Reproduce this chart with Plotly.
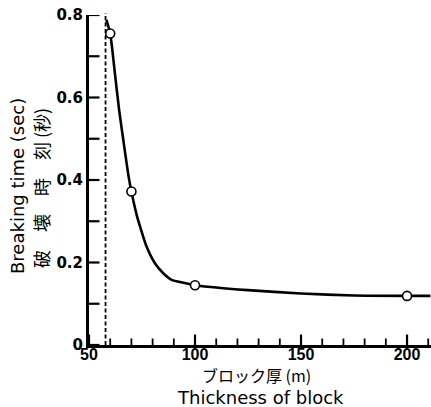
import plotly.graph_objects as go

# Measured points: block thickness (m) vs breaking time (sec)
thickness = [60, 70, 100, 200]
breaking_time = [0.755, 0.372, 0.145, 0.119]

# Fitted curve drawn through the measurements
curve_thickness = [58.2, 60, 62.4, 64.2, 66.4, 68.7, 70, 72.5, 74.1, 77.2, 81.1,
                   85, 89, 94.5, 100, 125, 150, 175, 200, 211]
curve_time = [0.788, 0.755, 0.650, 0.570, 0.489, 0.408, 0.372, 0.315, 0.287,
              0.238, 0.198, 0.174, 0.158, 0.151, 0.145, 0.133, 0.125, 0.120,
              0.119, 0.119]

# Limiting thickness (dashed asymptote)
limit_thickness = 57.8

# Axis ticks
x_ticks = list(range(50, 211, 10))
x_major = [50, 100, 150, 200]
y_ticks = [0, 0.1, 0.2, 0.3, 0.4, 0.5, 0.6, 0.7, 0.8]
y_labels = ["0", "", "0.2", "", "0.4", "", "0.6", "", "0.8"]

x_range = [50, 211.3]
y_range = [0, 0.8]

plot_w, plot_h = 342, 330
left, bottom = 89, 62

fig = go.Figure()

fig.add_trace(go.Scatter(
    x=curve_thickness, y=curve_time, mode="lines",
    line=dict(color="black", width=2.6, shape="spline", smoothing=0.6),
    hoverinfo="skip", showlegend=False,
))

fig.add_trace(go.Scatter(
    x=thickness, y=breaking_time, mode="markers",
    marker=dict(symbol="circle", size=9, color="white",
                line=dict(color="black", width=1.6)),
    showlegend=False,
))

fig.add_shape(type="line", xref="x", yref="paper",
              x0=limit_thickness, x1=limit_thickness, y0=0, y1=1.006,
              line=dict(color="black", width=1.8, dash="4px,2.5px"))

# Inward tick marks: every 10 m along x (longer at 50 m), every 0.1 s along y
for v in x_ticks:
    length = 10.5 if v in x_major else 6.5
    fig.add_shape(type="line", xref="x", yref="paper", layer="above",
                  x0=v, x1=v, y0=0, y1=length / plot_h,
                  line=dict(color="black", width=2.2 if v in x_major else 1.8))
for v in y_ticks:
    fig.add_shape(type="line", xref="paper", yref="y", layer="above",
                  x0=0, x1=10.5 / plot_w, y0=v, y1=v,
                  line=dict(color="black", width=2.2))

fig.update_xaxes(
    range=x_range, showline=True, linecolor="black", linewidth=3,
    ticks="", tickmode="array", tickvals=x_major,
    ticktext=[str(v) for v in x_major],
    tickfont=dict(family="Liberation Sans", size=16, color="black", weight="bold"),
    ticklabelstandoff=-7,
    showgrid=False, zeroline=False,
)
fig.update_yaxes(
    range=y_range, showline=True, linecolor="black", linewidth=3,
    ticks="", tickmode="array", tickvals=y_ticks, ticktext=y_labels,
    tickfont=dict(family="DejaVu Sans", size=15, color="black", weight="bold"),
    showgrid=False, zeroline=False,
)

def px_x(p):
    return (p - left) / plot_w

def px_y(p):
    return (345 - p) / plot_h

annotations = [
    dict(text="Breaking time (sec)", x=px_x(17), y=px_y(186), textangle=-90,
         font=dict(family="DejaVu Sans", size=18, color="black")),
    dict(text="破\u3000壊\u3000時\u3000刻 (秒)", x=px_x(41), y=px_y(188), textangle=-90,
         font=dict(family="Noto Sans CJK JP", size=18, color="black")),
    dict(text="ブロック厚 (m)", x=px_x(256), y=px_y(375),
         font=dict(family="Noto Sans CJK JP", size=16, color="black")),
    dict(text="Thickness of block", x=px_x(260), y=px_y(397.5),
         font=dict(family="DejaVu Sans", size=18, color="black")),
]
for a in annotations:
    a.update(xref="paper", yref="paper", showarrow=False,
             xanchor="center", yanchor="middle")

fig.update_layout(
    template="none",
    width=431, height=407,
    margin=dict(l=left, r=0, t=15, b=bottom),
    paper_bgcolor="white", plot_bgcolor="white",
    annotations=annotations,
)

fig.write_html("out.html")
